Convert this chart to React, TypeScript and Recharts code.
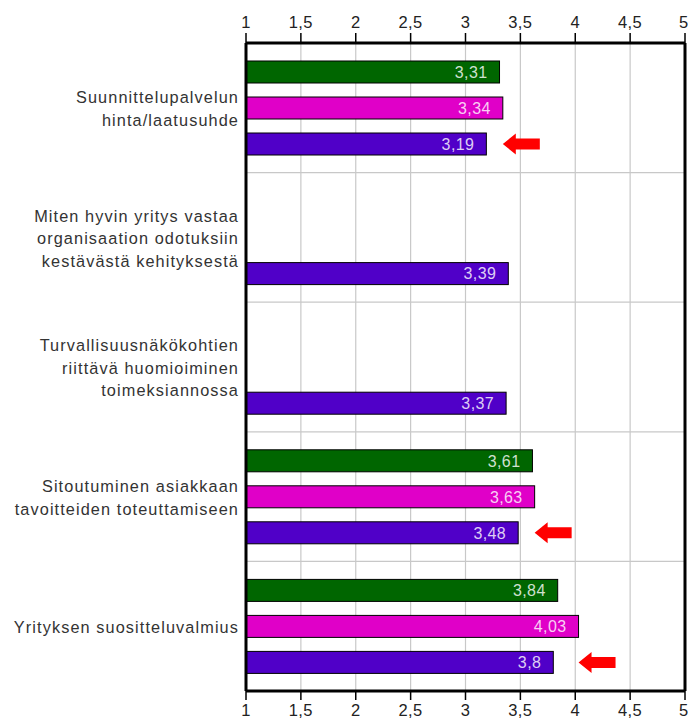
import React from 'react';
import { BarChart, Bar, XAxis, YAxis, CartesianGrid, ReferenceLine, LabelList } from 'recharts';

const categories: string[][] = [
  ['Suunnittelupalvelun', 'hinta/laatusuhde'],
  ['Miten hyvin yritys vastaa', 'organisaation odotuksiin', 'kestävästä kehityksestä'],
  ['Turvallisuusnäkökohtien', 'riittävä huomioiminen', 'toimeksiannossa'],
  ['Sitoutuminen asiakkaan', 'tavoitteiden toteuttamiseen'],
  ['Yrityksen suositteluvalmius'],
];
const greenValues: (number | null)[] = [3.31, null, null, 3.61, 3.84];
const magentaValues: (number | null)[] = [3.34, null, null, 3.63, 4.03];
const purpleValues: number[] = [3.19, 3.39, 3.37, 3.48, 3.8];
const arrowFlags: boolean[] = [true, false, false, true, true];
const xTicks: number[] = [1, 1.5, 2, 2.5, 3, 3.5, 4, 4.5, 5];

const data = categories.map((lines, i) => ({
  name: lines.join(' '),
  green: greenValues[i],
  magenta: magentaValues[i],
  purple: purpleValues[i],
  arrow: arrowFlags[i],
}));

const FONT = '"Liberation Sans", Arial, Helvetica, sans-serif';
const fmt = (v: number) => String(v).replace('.', ',');

const CategoryTick = (props: any) => {
  const { x, y, index } = props;
  const lines = categories[index] || [];
  const lh = 22.5;
  const start = -((lines.length - 1) / 2) * lh;
  return (
    <text x={x} y={y} textAnchor="end" fill="#333" fontSize={16.3} letterSpacing={1.1} fontFamily={FONT}>
      {lines.map((l, i) => (
        <tspan key={i} x={x} y={y + 1 + start + i * lh} dy="0.35em">{l}</tspan>
      ))}
    </text>
  );
};

const ValueLabel = (props: any) => {
  const { x, y, width, height, value } = props;
  if (value === null || value === undefined) return null;
  return (
    <text x={x + width - 12} y={y + height / 2} dy="0.36em" textAnchor="end" fill="#fff" fillOpacity={0.82} fontSize={16} letterSpacing={0.4} fontFamily={FONT}>
      {fmt(value)}
    </text>
  );
};

const PurpleShape = (props: any) => {
  const { x, y, width, height, payload, fill } = props;
  let arrow = null;
  if (payload && payload.arrow && payload.magenta != null) {
    const tip = x + (width * (payload.magenta - 1)) / (payload.purple - 1);
    const cy = y + height / 2;
    const hl = 13, hh = 10.5, bh = 5.5, len = 37;
    const pts = [
      [tip, cy], [tip + hl, cy - hh], [tip + hl, cy - bh], [tip + len, cy - bh],
      [tip + len, cy + bh], [tip + hl, cy + bh], [tip + hl, cy + hh],
    ].map((p) => p.join(',')).join(' ');
    arrow = <polygon points={pts} fill="#ff0000" />;
  }
  return (
    <g>
      <rect x={x} y={y} width={width} height={height} fill={fill} stroke="#000" strokeWidth={1} />
      {arrow}
    </g>
  );
};

const NormalShape = (props: any) => {
  const { x, y, width, height, fill } = props;
  if (!width) return null;
  return <rect x={x} y={y} width={width} height={height} fill={fill} stroke="#000" strokeWidth={1} />;
};

export default function App() {
  return (
    <div style={{ position: 'absolute', left: 0, top: 0, background: '#fff' }}>
      <BarChart
        width={688}
        height={721}
        data={data}
        layout="vertical"
        margin={{ top: 0, right: 3, bottom: 0, left: 0 }}
        barSize={22}
        barGap={14}
      >
        <CartesianGrid
          xAxisId="b"
          stroke="#c8c8c8"
          strokeWidth={1.2}
          horizontalCoordinatesGenerator={({ offset }: any) =>
            categories.slice(1).map((_, i) => offset.top + ((i + 1) * offset.height) / categories.length)
          }
        />
        <XAxis
          xAxisId="t"
          orientation="top"
          type="number"
          domain={[1, 5]}
          ticks={xTicks}
          tickFormatter={fmt}
          height={43}
          tickSize={10}
          tickMargin={5}
          axisLine={{ stroke: '#000', strokeWidth: 3 }}
          tickLine={{ stroke: '#000', strokeWidth: 1.5 }}
          tick={{ fill: '#222', fontSize: 16.5, fontFamily: FONT, letterSpacing: 0.4 }}
          allowDataOverflow
        />
        <XAxis
          xAxisId="b"
          orientation="bottom"
          type="number"
          domain={[1, 5]}
          ticks={xTicks}
          tickFormatter={fmt}
          height={30}
          tickSize={9}
          tickMargin={4}
          axisLine={{ stroke: '#000', strokeWidth: 3 }}
          tickLine={{ stroke: '#000', strokeWidth: 1.5 }}
          tick={{ fill: '#222', fontSize: 16.5, fontFamily: FONT, letterSpacing: 0.4 }}
          allowDataOverflow
        />
        <YAxis
          type="category"
          dataKey="name"
          width={246}
          tickLine={false}
          tickSize={0}
          tickMargin={7}
          axisLine={{ stroke: '#000', strokeWidth: 3 }}
          tick={<CategoryTick />}
          interval={0}
        />
        <ReferenceLine xAxisId="b" x={5} stroke="#000" strokeWidth={3} />
        <Bar xAxisId="b" dataKey="green" fill="#006600" isAnimationActive={false} shape={<NormalShape />}>
          <LabelList dataKey="green" content={<ValueLabel />} />
        </Bar>
        <Bar xAxisId="b" dataKey="magenta" fill="#e000c8" isAnimationActive={false} shape={<NormalShape />}>
          <LabelList dataKey="magenta" content={<ValueLabel />} />
        </Bar>
        <Bar xAxisId="b" dataKey="purple" fill="#5000c8" isAnimationActive={false} shape={<PurpleShape />}>
          <LabelList dataKey="purple" content={<ValueLabel />} />
        </Bar>
      </BarChart>
    </div>
  );
}
